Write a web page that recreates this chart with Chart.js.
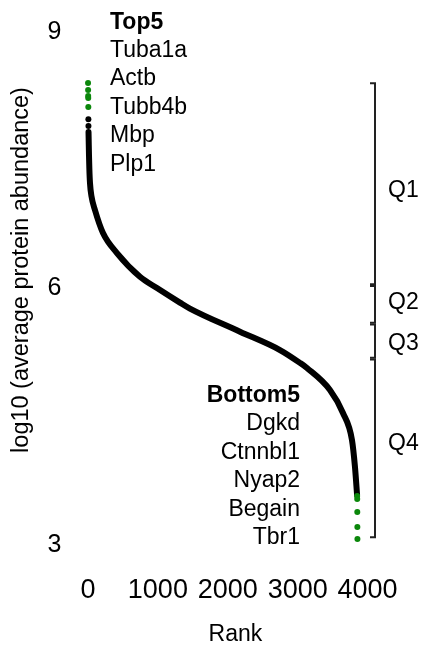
<!DOCTYPE html>
<html>
<head>
<meta charset="utf-8">
<script src="https://cdn.jsdelivr.net/npm/chart.js@4/dist/chart.umd.min.js"></script>
<style>
  html, body { margin: 0; padding: 0; background: #ffffff; }
  #c { display: block; }
</style>
</head>
<body>
<canvas id="c" width="422" height="650"></canvas>
<script>
// Protein abundance ranked from highest to lowest (log10 of the mean abundance)
const curveRanks  = [8, 10, 15, 20, 29, 50, 100, 215, 415, 744, 987, 1316, 1459, 2175, 2747, 3033, 3133, 3462, 3648, 3777, 3820, 3848, 3850];
const curveValues = [7.83, 7.75, 7.55, 7.40, 7.234, 7.08, 6.918, 6.649, 6.415, 6.138, 6.005, 5.835, 5.765, 5.495, 5.28, 5.13, 5.07, 4.813, 4.544, 4.228, 3.912, 3.608, 3.585];

// Sparse points just below the five most abundant proteins
const tailRanks  = [6, 7];
const tailValues = [7.98, 7.90];

// Five most / least abundant proteins
const topGenes     = ['Tuba1a', 'Actb', 'Tubb4b', 'Mbp', 'Plp1'];
const topRanks     = [1, 2, 3, 4, 5];
const topValues    = [8.404, 8.322, 8.251, 8.228, 8.123];
const bottomGenes  = ['Dgkd', 'Ctnnbl1', 'Nyap2', 'Begain', 'Tbr1'];
const bottomRanks  = [3851, 3852, 3853, 3854, 3855];
const bottomValues = [3.573, 3.538, 3.386, 3.211, 3.070];

// Abundance range covered by each rank quartile
const quartileNames = ['Q1', 'Q2', 'Q3', 'Q4'];
const quartileHigh  = [8.40, 6.03, 5.58, 5.17];
const quartileLow   = [6.05, 5.60, 5.19, 3.09];

// Axis ticks
const xTicks = [0, 1000, 2000, 3000, 4000];
const yTicks = [3, 6, 9];

const FONT = "'Liberation Sans', Arial, Helvetica, sans-serif";
const GREEN = '#0b870b';

const toXY = (xs, ys) => xs.map((x, i) => ({ x: x, y: ys[i] }));

const annotations = {
  id: 'annotations',
  afterDraw(chart) {
    const ctx = chart.ctx;
    const y = chart.scales.y;
    ctx.save();
    ctx.fillStyle = '#000000';
    ctx.textBaseline = 'alphabetic';

    // top five list
    ctx.textAlign = 'left';
    ctx.font = 'bold 23px ' + FONT;
    ctx.fillText('Top5', 110, 28.5);
    ctx.font = '23px ' + FONT;
    topGenes.forEach((g, i) => ctx.fillText(g, 110, 57 + 28.4 * i));

    // bottom five list
    ctx.textAlign = 'right';
    ctx.font = 'bold 23px ' + FONT;
    ctx.fillText('Bottom5', 300, 401.5);
    ctx.font = '23px ' + FONT;
    bottomGenes.forEach((g, i) => ctx.fillText(g, 300, 430 + 28.5 * i));

    // quartile brackets, labels sit near the middle of each span
    const bx = 375, tick = 5;
    const labelShift = [6, -3, 2, -6];
    ctx.strokeStyle = '#222222';
    ctx.lineWidth = 2;
    ctx.lineCap = 'butt';
    ctx.textAlign = 'left';
    ctx.textBaseline = 'middle';
    quartileNames.forEach((q, i) => {
      const y0 = y.getPixelForValue(quartileHigh[i]);
      const y1 = y.getPixelForValue(quartileLow[i]);
      ctx.beginPath();
      ctx.moveTo(bx - tick, y0);
      ctx.lineTo(bx, y0);
      ctx.lineTo(bx, y1);
      ctx.lineTo(bx - tick, y1);
      ctx.stroke();
      ctx.fillText(q, 388, (y0 + y1) / 2 + 1 + labelShift[i]);
    });

    // y axis title
    ctx.translate(22, 270);
    ctx.rotate(-Math.PI / 2);
    ctx.textAlign = 'center';
    ctx.textBaseline = 'middle';
    ctx.font = '23.5px ' + FONT;
    ctx.fillText('log10 (average protein abundance)', 0, 0);
    ctx.restore();
  }
};

new Chart(document.getElementById('c'), {
  type: 'scatter',
  data: {
    datasets: [
      {
        label: 'Top5',
        data: toXY(topRanks, topValues),
        backgroundColor: GREEN,
        borderWidth: 0,
        pointRadius: 3,
        clip: false,
        order: 0
      },
      {
        label: 'Bottom5',
        data: toXY(bottomRanks, bottomValues),
        backgroundColor: GREEN,
        borderWidth: 0,
        pointRadius: 3,
        clip: false,
        order: 0
      },
      {
        label: 'tail',
        data: toXY(tailRanks, tailValues),
        backgroundColor: '#000000',
        borderWidth: 0,
        pointRadius: 3,
        clip: false,
        order: 1
      },
      {
        label: 'abundance',
        data: toXY(curveRanks, curveValues),
        showLine: true,
        borderColor: '#000000',
        borderWidth: 6,
        borderCapStyle: 'round',
        borderJoinStyle: 'round',
        cubicInterpolationMode: 'monotone',
        pointRadius: 0,
        clip: false,
        order: 2
      }
    ]
  },
  options: {
    responsive: false,
    devicePixelRatio: 1,
    animation: false,
    events: [],
    layout: { padding: { top: 32, right: 12.5, left: 0, bottom: 0 } },
    plugins: { legend: { display: false }, tooltip: { enabled: false } },
    scales: {
      x: {
        type: 'linear',
        min: -380,
        max: 4600,
        grid: { display: false, drawTicks: false },
        border: { display: false },
        afterBuildTicks: (s) => { s.ticks = xTicks.map(v => ({ value: v })); },
        afterFit: (s) => { s.height = 105; s.paddingLeft = 0; s.paddingRight = 0; },
        ticks: {
          color: '#000000',
          font: { family: FONT, size: 27 },
          padding: 29,
          maxRotation: 0,
          autoSkip: false,
          callback: (v) => String(v)
        },
        title: {
          display: true,
          text: 'Rank',
          color: '#000000',
          font: { family: FONT, size: 23 },
          padding: { top: 0, bottom: 2 }
        }
      },
      y: {
        type: 'linear',
        min: 3,
        max: 9,
        grid: { display: false, drawTicks: false },
        border: { display: false },
        afterBuildTicks: (s) => { s.ticks = yTicks.map(v => ({ value: v })); },
        afterFit: (s) => { s.width = 61.4; s.paddingTop = 0; s.paddingBottom = 0; },
        ticks: {
          color: '#000000',
          font: { family: FONT, size: 25 },
          padding: 0,
          callback: (v) => String(v)
        }
      }
    }
  },
  plugins: [annotations]
});
</script>
</body>
</html>
